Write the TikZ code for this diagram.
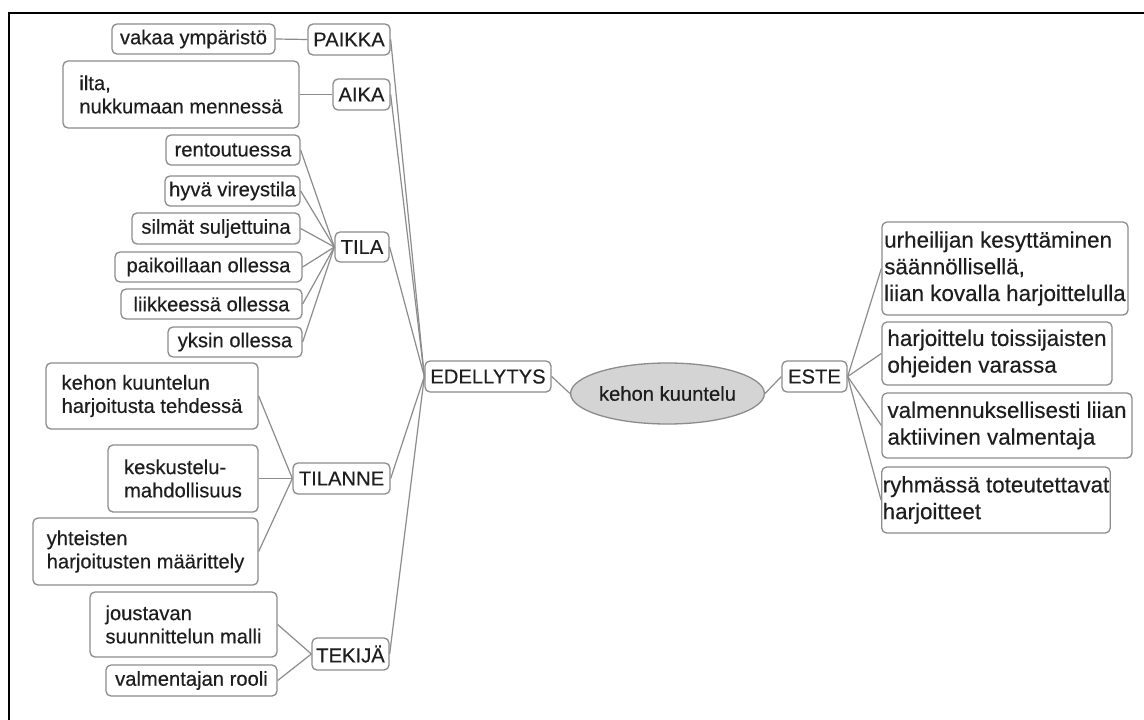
\documentclass[tikz,border=0pt]{standalone}
\usepackage{fontspec}
\newfontfamily\lfont[FakeBold=0.35]{Liberation Sans}
\usetikzlibrary{shapes.geometric}
\definecolor{edgegray}{HTML}{8C8C8C}
\definecolor{txt}{HTML}{1E1E1E}
\definecolor{rootfill}{HTML}{D4D4D4}
\tikzset{
  box/.style={draw=edgegray, line width=1.3pt, rounded corners=5pt, fill=white,
    text=txt, inner sep=1pt, align=left, font=\lfont\fontsize{20.2}{23.3}\selectfont},
  rbox/.style={box, font=\lfont\fontsize{22.4}{26.7}\selectfont},
  link/.style={draw=edgegray, line width=1.2pt},
  frame/.style={draw=black, line width=2.5pt},
}
\begin{document}
\begin{tikzpicture}[x=1pt,y=-1pt]
\useasboundingbox (0,0) rectangle (1144,720);
\fill[white] (0,0) rectangle (1144,720);
% frame (top and left edges)
\coordinate (f1) at (1144,13);
\coordinate (f0) at (9,13);
\coordinate (f2) at (9,720);
\draw[frame] (f1) -- (f0) -- (f2);

% root and main branches
\node[ellipse, draw=edgegray, line width=1.3pt, fill=rootfill, text=txt, inner sep=0pt,
  minimum width=161, minimum height=61, font=\lfont\fontsize{20.2}{23.3}\selectfont]
  (root) at (667.5,393.5) {kehon kuuntelu};
\node[box, minimum width=126, minimum height=31] (edel) at (488,376.5) {EDELLYTYS};
\node[box, minimum width=65, minimum height=31] (este) at (814.5,376.5) {ESTE};

% level 2 (left)
\node[box, minimum width=82, minimum height=31] (paikka) at (349,39.5) {PAIKKA};
\node[box, minimum width=57, minimum height=31] (aika) at (361.5,94.5) {AIKA};
\node[box, minimum width=54, minimum height=30] (tila) at (362,247) {TILA};
\node[box, minimum width=97, minimum height=31] (tilanne) at (341.5,478.5) {TILANNE};
\node[box, minimum width=77, minimum height=32] (tekija) at (350.5,654) {TEKIJÄ};

% level 3 (left)
\node[box, minimum width=163, minimum height=30] (vakaa) at (193.5,39) {vakaa ympäristö};
\node[box, minimum width=236, minimum height=67] (ilta) at (181,94.5) {ilta,\\nukkumaan mennessä};
\node[box, minimum width=134, minimum height=30] (rento) at (233,150) {rentoutuessa};
\node[box, minimum width=135, minimum height=30] (hyva) at (232.5,191) {hyvä vireystila};
\node[box, minimum width=168, minimum height=31] (silmat) at (216,228.5) {silmät suljettuina};
\node[box, minimum width=187, minimum height=30] (paik) at (208.5,267) {paikoillaan ollessa};
\node[box, minimum width=181, minimum height=30] (liik) at (211.5,304) {liikkeessä ollessa};
\node[box, minimum width=134, minimum height=30] (yksin) at (235,342) {yksin ollessa};
\node[box, minimum width=212, minimum height=66] (kehon) at (152,396) {kehon kuuntelun\\harjoitusta tehdessä};
\node[box, minimum width=150, minimum height=67] (kesk) at (183,478.5) {keskustelu-\\mahdollisuus};
\node[box, minimum width=225, minimum height=67] (yht) at (145.5,551.5) {yhteisten\\harjoitusten määrittely};
\node[box, minimum width=187, minimum height=65] (joust) at (183.5,624.5) {joustavan\\suunnittelun malli};
\node[box, minimum width=171, minimum height=31] (valm) at (191.5,680.5) {valmentajan rooli};

% right
\node[rbox, minimum width=246, minimum height=93] (urh) at (1005,268.5) {urheilijan kesyttäminen\\säännöllisellä,\\liian kovalla harjoittelulla};
\node[rbox, minimum width=230, minimum height=63] (harj) at (997,353.5) {harjoittelu toissijaisten\\ohjeiden varassa};
\node[rbox, minimum width=250, minimum height=65] (valmen) at (1007,425.5) {valmennuksellisesti liian\\aktiivinen valmentaja};
\node[rbox, minimum width=228, minimum height=66] (ryhma) at (996,500) {ryhmässä toteutettavat\\harjoitteet};

% links
\draw[link] (edel.east) -- (root.west);
\draw[link] (root.east) -- (este.west);
\foreach \n in {paikka,aika,tila,tilanne,tekija} \draw[link] (\n.east) -- (edel.west);
\draw[link] (vakaa.east) -- (paikka.west);
\draw[link] (ilta.east) -- (aika.west);
\foreach \n in {rento,hyva,silmat,paik,liik,yksin} \draw[link] (\n.east) -- (tila.west);
\foreach \n in {kehon,kesk,yht} \draw[link] (\n.east) -- (tilanne.west);
\foreach \n in {joust,valm} \draw[link] (\n.east) -- (tekija.west);
\foreach \n in {urh,harj,valmen,ryhma} \draw[link] (este.east) -- (\n.west);
\end{tikzpicture}
\end{document}
